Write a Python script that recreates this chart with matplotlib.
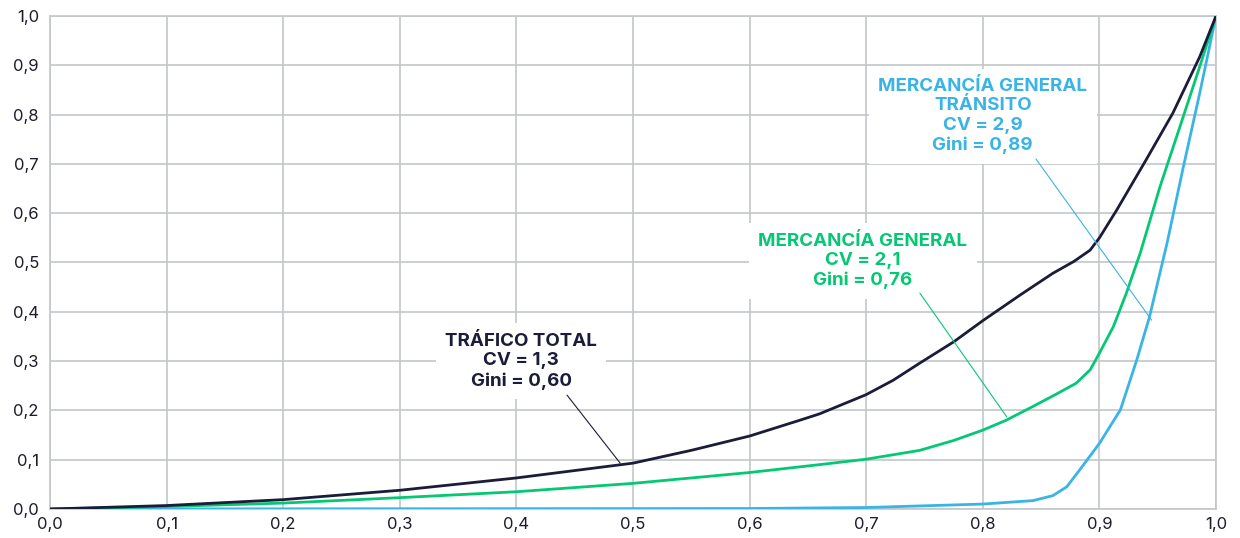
import matplotlib
matplotlib.use("Agg")
import matplotlib.pyplot as plt
from matplotlib.ticker import FuncFormatter, MultipleLocator

plt.rcParams['font.family'] = ['Inter', 'DejaVu Sans']

# Cumulative share of ports (x) vs cumulative share of traffic (y)
total_x = [0.0, 0.1, 0.2, 0.3, 0.4, 0.5, 0.55, 0.6, 0.643, 0.66, 0.70, 0.723, 0.746, 0.775,
           0.80, 0.832, 0.86, 0.878, 0.892, 0.90, 0.915, 0.94, 0.963, 0.986, 1.0]
total_y = [0.0, 0.007, 0.019, 0.038, 0.063, 0.093, 0.119, 0.148, 0.180, 0.193, 0.232, 0.261, 0.296, 0.339,
           0.382, 0.434, 0.478, 0.502, 0.525, 0.550, 0.607, 0.708, 0.803, 0.917, 1.0]

general_x = [0.0, 0.1, 0.2, 0.3, 0.4, 0.5, 0.6, 0.66, 0.70, 0.746, 0.775, 0.80, 0.82, 0.843,
             0.863, 0.880, 0.892, 0.900, 0.912, 0.923, 0.935, 0.952, 0.969, 0.986, 1.0]
general_y = [0.0, 0.005, 0.012, 0.023, 0.035, 0.052, 0.074, 0.090, 0.101, 0.119, 0.139, 0.160, 0.180, 0.208,
             0.233, 0.255, 0.282, 0.316, 0.370, 0.437, 0.519, 0.654, 0.775, 0.897, 1.0]

transit_x = [0.0, 0.6, 0.7, 0.8, 0.843, 0.86, 0.872, 0.883, 0.90, 0.918, 0.932, 0.943, 0.958,
             0.972, 0.986, 1.0]
transit_y = [0.0, 0.001, 0.003, 0.010, 0.017, 0.027, 0.045, 0.079, 0.133, 0.201, 0.302, 0.390, 0.539,
             0.694, 0.843, 1.0]

labels = ["TRÁFICO TOTAL\nCV = 1,3\nGini = 0,60",
          "MERCANCÍA GENERAL\nCV = 2,1\nGini = 0,76",
          "MERCANCÍA GENERAL\nTRÁNSITO\nCV = 2,9\nGini = 0,89"]

c_total = "#1b1b3a"
c_general = "#04c874"
c_transit = "#3ab4e6"
c_grid = "#c3c7cb"

fig = plt.figure(figsize=(12.4, 5.38), dpi=100)
ax = fig.add_axes([50/1240, 29/538, 1166/1240, 493/538])

ax.plot(transit_x, transit_y, color=c_transit, lw=2.0, solid_capstyle='round', solid_joinstyle='round', zorder=3)
ax.plot(general_x, general_y, color=c_general, lw=2.0, solid_capstyle='round', solid_joinstyle='round', zorder=4)
ax.plot(total_x, total_y, color=c_total, lw=2.0, solid_capstyle='round', solid_joinstyle='round', zorder=5)

ax.set_xlim(0, 1)
ax.set_ylim(0, 1)
ax.xaxis.set_major_locator(MultipleLocator(0.1))
ax.yaxis.set_major_locator(MultipleLocator(0.1))
fmt = FuncFormatter(lambda v, p: f"{v:.1f}".replace(".", ","))
ax.xaxis.set_major_formatter(fmt)
ax.yaxis.set_major_formatter(fmt)
ax.tick_params(length=0, labelsize=12, colors="#1b1b2a", pad=8)
ax.tick_params(axis='x', pad=6)
ax.grid(True, color=c_grid, lw=1.2, zorder=0)
ax.set_axisbelow(True)
for s in ax.spines.values():
    s.set_color(c_grid)
    s.set_linewidth(1.2)

box = dict(boxstyle="square,pad=0.5", fc="white", ec="none")
tkw = dict(ha="center", va="center", fontsize=13.5, fontweight="bold", linespacing=1.2, zorder=2)
ax.text(0.404, 0.300, labels[0], color=c_total, bbox=box, **tkw)
ax.text(0.697, 0.503, labels[1], color=c_general, bbox=box, **tkw)
ax.text(0.800, 0.797, labels[2], color=c_transit, bbox=box, **tkw)

ax.annotate("", xy=(0.489, 0.093), xytext=(0.4434, 0.231),
            arrowprops=dict(arrowstyle="-", lw=0.8, color=c_total, shrinkA=0, shrinkB=0), zorder=6)
ax.annotate("", xy=(0.8205, 0.187), xytext=(0.746, 0.438),
            arrowprops=dict(arrowstyle="-", lw=0.8, color=c_general, shrinkA=0, shrinkB=0), zorder=6)
ax.annotate("", xy=(0.9448, 0.383), xytext=(0.8456, 0.710),
            arrowprops=dict(arrowstyle="-", lw=0.8, color=c_transit, shrinkA=0, shrinkB=0), zorder=6)

fig.savefig("out.png", dpi=100)
